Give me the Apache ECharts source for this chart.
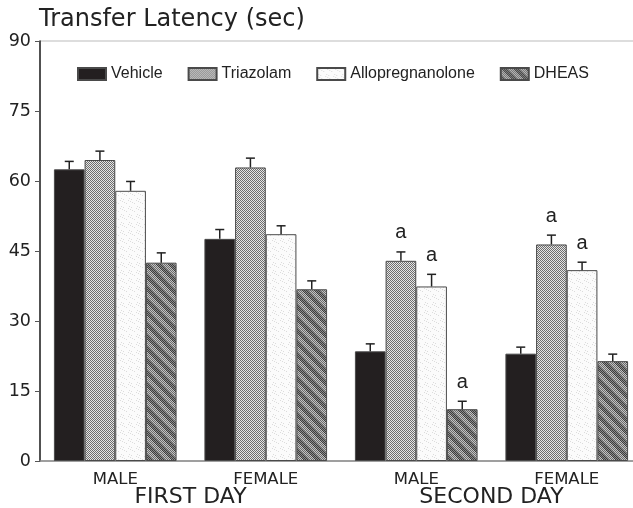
<!DOCTYPE html>
<html>
<head>
<meta charset="utf-8">
<script src="https://cdn.jsdelivr.net/npm/echarts@6/dist/echarts.min.js"></script>
<style>html,body{margin:0;padding:0;background:#fff}#c{width:633px;height:508px}</style>
</head>
<body>
<div id="c"></div>
<script>
// ---- data ----
const categories = ['MALE', 'FEMALE', 'MALE', 'FEMALE'];
const days = ['FIRST DAY', 'SECOND DAY'];
const seriesNames = ['Vehicle', 'Triazolam', 'Allopregnanolone', 'DHEAS'];
const vehicle = [62.5, 47.6, 23.5, 23.0];
const vehicleErr = [1.7, 2.0, 1.6, 1.4];
const triazolam = [64.5, 62.9, 42.9, 46.4];
const triazolamErr = [1.9, 2.0, 1.9, 2.0];
const allopregnanolone = [57.9, 48.6, 37.4, 40.9];
const allopregnanoloneErr = [2.0, 1.8, 2.6, 1.7];
const dheas = [42.5, 36.8, 11.1, 21.4];
const dheasErr = [2.1, 1.8, 1.7, 1.5];
const vehicleSig = ['', '', '', ''];
const triazolamSig = ['', '', 'a', 'a'];
const allopregnanoloneSig = ['', '', 'a', 'a'];
const dheasSig = ['', '', 'a', ''];
const yTicks = [0, 15, 30, 45, 60, 75, 90];

const values = [vehicle, triazolam, allopregnanolone, dheas];
const errs = [vehicleErr, triazolamErr, allopregnanoloneErr, dheasErr];
const sigs = [vehicleSig, triazolamSig, allopregnanoloneSig, dheasSig];

// ---- patterns ----
function makePattern(w, h, fn) {
  const c = document.createElement('canvas');
  c.width = w; c.height = h;
  const ctx = c.getContext('2d');
  for (let y = 0; y < h; y++) for (let x = 0; x < w; x++) {
    ctx.fillStyle = fn(x, y);
    ctx.fillRect(x, y, 1, 1);
  }
  return { image: c, repeat: 'repeat' };
}
const triPat = makePattern(4, 4, (x, y) => ((x + y) % 2 === 0 ? '#6e6e6e' : '#e6e6e6'));
const alloPat = makePattern(8, 8, (x, y) => ((x * 3 + y * 5) % 11 === 0 ? '#dcdcdc' : '#fbfbfb'));
const dheasPat = makePattern(12, 12, (x, y) => {
  const d = ((x - y) % 12 + 12) % 12;
  const chk = (x + y) % 2 === 0;
  if (d < 6) return chk ? '#3c3c3c' : '#8c8c8c';
  return chk ? '#6a6a6a' : '#c4c4c4';
});
const fills = ['#231f20', triPat, alloPat, dheasPat];

const FONT = 'Liberation Sans, Arial, Helvetica, sans-serif';
const WIDE = 'DejaVu Sans, Verdana, sans-serif';
const GAP = 0.185;

const chart = echarts.init(document.getElementById('c'), null, { renderer: 'canvas' });

const barSeries = seriesNames.map((n, k) => ({
  name: n,
  type: 'bar',
  data: values[k],
  barGap: '0%',
  barCategoryGap: (GAP * 100) + '%',
  itemStyle: { color: fills[k], borderColor: '#4a4a4a', borderWidth: 1 },
  z: 2
}));

const errSeries = seriesNames.map((n, k) => ({
  name: n + ' err',
  type: 'custom',
  z: 4,
  data: values[k].map((v, i) => [i, v, errs[k][i]]),
  renderItem: function (params, api) {
    const i = api.value(0), v = api.value(1), e = api.value(2);
    const base = api.coord([i, v]);
    const top = api.coord([i, v + e]);
    const band = api.size([1, 0])[0];
    const gw = band * (1 - GAP);
    const bw = gw / 4;
    const cx = base[0] - gw / 2 + (k + 0.5) * bw;
    const st = { stroke: '#222', lineWidth: 1.5 };
    const children = [
      { type: 'line', shape: { x1: cx, y1: base[1], x2: cx, y2: top[1] }, style: st },
      { type: 'line', shape: { x1: cx - 4.5, y1: top[1], x2: cx + 4.5, y2: top[1] }, style: st }
    ];
    const s = sigs[k][params.dataIndex];
    if (s) {
      children.push({ type: 'text', x: cx, y: top[1] - 19,
        style: { text: s, fill: '#222', font: '20px ' + FONT, align: 'center', verticalAlign: 'middle' } });
    }
    return { type: 'group', children: children };
  }
}));

chart.setOption({
  animation: false,
  backgroundColor: '#fff',
  title: {
    text: 'Transfer Latency (sec)', left: 39, top: 8, padding: 0,
    textStyle: { fontSize: 24, fontWeight: 'normal', color: '#222', fontFamily: WIDE }
  },
  legend: {
    data: seriesNames, left: 77, top: 66, padding: 0,
    icon: 'rect', itemWidth: 28, itemHeight: 12, itemGap: 25,
    textStyle: { fontSize: 16, color: '#222', fontFamily: FONT }
  },
  grid: { left: 40, top: 41, bottom: 47, right: -9, containLabel: false, outerBoundsMode: 'none',
    show: true, borderColor: '#bbbbbb', borderWidth: 1 },
  xAxis: [
    { type: 'category', data: categories, position: 'bottom',
      axisLine: { lineStyle: { color: '#8a8a8a', width: 1.5 } },
      axisTick: { show: false },
      axisLabel: { fontSize: 16.5, color: '#222', margin: 10, fontFamily: WIDE } },
    { type: 'category', data: days, position: 'bottom', offset: 0,
      axisLine: { show: false }, axisTick: { show: false },
      axisLabel: { fontSize: 22, color: '#222', margin: 25, fontFamily: WIDE } }
  ],
  yAxis: {
    type: 'value', min: 0, max: 90, interval: 15,
    axisLine: { show: true, lineStyle: { color: '#222', width: 1.5 } },
    axisTick: { show: true, length: 5, lineStyle: { color: '#555' } },
    splitLine: { show: false },
    axisLabel: { fontSize: 17.5, color: '#222', margin: 9, fontFamily: WIDE,
      formatter: v => (yTicks.indexOf(v) >= 0 ? String(v) : '') }
  },
  series: barSeries.concat(errSeries)
});
</script>
</body>
</html>
